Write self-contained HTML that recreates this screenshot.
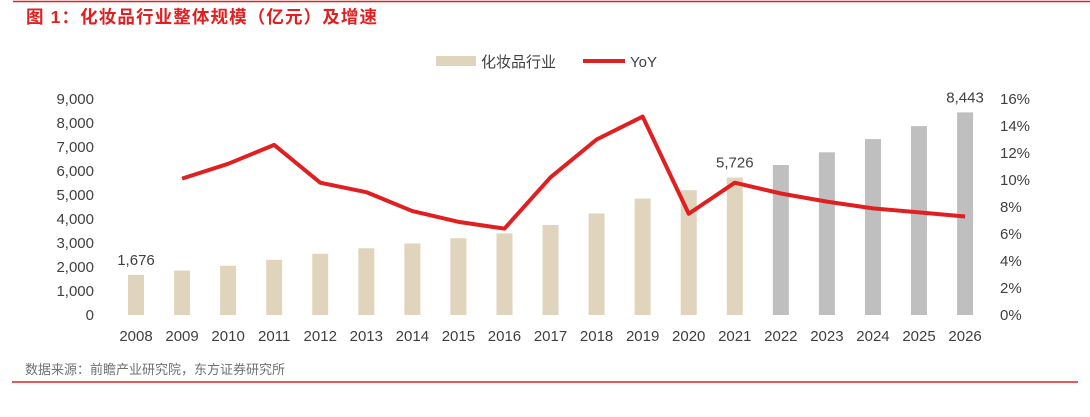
<!DOCTYPE html>
<html><head><meta charset="utf-8"><style>
body{margin:0;background:#fff;width:1090px;height:412px;overflow:hidden;font-family:"Liberation Sans","Noto Sans CJK SC",sans-serif;}
</style></head><body>
<svg width="1090" height="412" xmlns="http://www.w3.org/2000/svg" font-family="Liberation Sans, Noto Sans CJK SC, sans-serif">
<line x1="13" y1="1.5" x2="1090" y2="1.5" stroke="#e02020" stroke-width="1.5"/>
<text x="26" y="23" fill="#e02020" font-size="17.5" font-weight="bold" textLength="351" lengthAdjust="spacing">图 1：化妆品行业整体规模（亿元）及增速</text>
<g>
<rect x="436" y="56" width="40" height="10" fill="#e0d5bc"/>
<text x="481" y="67" font-size="15" fill="#404040">化妆品行业</text>
<line x1="583" y1="61" x2="625" y2="61" stroke="#e02020" stroke-width="4"/>
<text x="630" y="67" font-size="15" fill="#404040">YoY</text>
</g>
<g id="chart"></g>
<text x="25" y="374" font-size="13" fill="#707070">数据来源：前瞻产业研究院，东方证券研究所</text>
<line x1="12" y1="382" x2="1078" y2="382" stroke="#e02020" stroke-width="1.5"/>
</svg>
<script>
const years=["2008","2009","2010","2011","2012","2013","2014","2015","2016","2017","2018","2019","2020","2021","2022","2023","2024","2025","2026"];
const sales=[1676,1850,2050,2300,2550,2780,2980,3200,3400,3750,4230,4850,5200,5726,6250,6780,7330,7870,8443];
const yoy=[null,10.1,11.2,12.6,9.8,9.1,7.7,6.9,6.4,10.2,13.0,14.7,7.5,9.8,9.0,8.4,7.9,7.6,7.3];
const forecastFrom=14;
const leftTicks=[0,1000,2000,3000,4000,5000,6000,7000,8000,9000];
const rightTicks=[0,2,4,6,8,10,12,14,16];
const labeled={0:"1,676",13:"5,726",18:"8,443"};
const NS="http://www.w3.org/2000/svg";
const g=document.getElementById('chart');
const x0=136,dx=46.06,yB=315;
const xs=i=>x0+i*dx;
const yL=v=>yB-v*216/9000;
const yR=v=>yB-v*216/16;
function el(t,a){const e=document.createElementNS(NS,t);for(const k in a)e.setAttribute(k,a[k]);g.appendChild(e);return e;}
leftTicks.forEach(v=>{const t=el('text',{x:94,y:yL(v)+5,'text-anchor':'end','font-size':15,fill:'#404040'});


t.textContent=v.toLocaleString('en-US');});
rightTicks.forEach(v=>{const t=el('text',{x:1000,y:yR(v)+5,'font-size':15,fill:'#404040'});


t.textContent=v+'%';});
years.forEach((y,i)=>{const t=el('text',{x:xs(i),y:341,'text-anchor':'middle','font-size':15,fill:'#404040'});


t.textContent=y;});
sales.forEach((v,i)=>{const r=el('rect',{x:xs(i)-8,y:yL(v),width:16,height:yB-yL(v),fill:i>=forecastFrom?'#bfbfbf':'#e0d5bc'});


if(labeled[i]){const t=el('text',{x:xs(i),y:yL(v)-10,'text-anchor':'middle','font-size':15,fill:'#404040'});


t.textContent=labeled[i];}});
let d='';yoy.forEach((v,i)=>{if(v==null)return;d+=(d?'L':'M')+xs(i)+' '+yR(v);});
const p=el('path',{d:d,fill:'none',stroke:'#e02020','stroke-width':4,'stroke-linejoin':'round'});


</script>
</body></html>
